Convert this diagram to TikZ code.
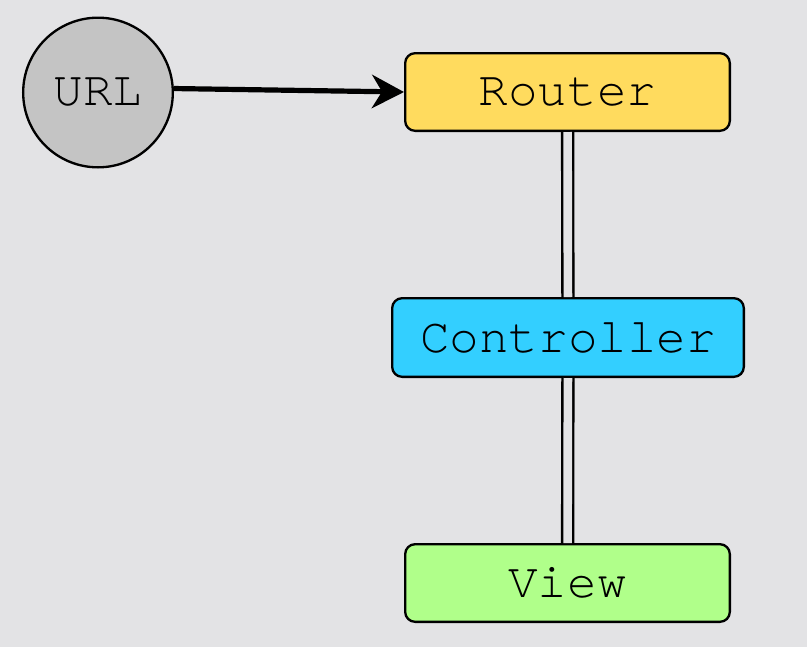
\documentclass[tikz,border=0pt]{standalone}
\usepackage{fontspec}
\setmonofont{TeX Gyre Cursor}
\usepackage{tikz}
\usetikzlibrary{arrows.meta}
\definecolor{bggray}{HTML}{E3E3E5}
\definecolor{urlgray}{HTML}{C4C4C4}
\definecolor{routeryellow}{HTML}{FFDB5E}
\definecolor{ctrlblue}{HTML}{33CFFF}
\definecolor{viewgreen}{HTML}{B0FF8A}
\tikzset{
    mvcbox/.style={draw, rounded corners=7.5pt, line width=1.75pt,
        minimum width=243.5pt, minimum height=58.25pt, inner sep=0pt,
        font=\ttfamily\fontsize{37}{37}\selectfont},
    link/.style={double=bggray, double distance=6.5pt, line width=1.75pt}
}
\newcommand{\doublelink}[2]{
    \draw[link] (#1) -- (#2);
}

\begin{document}
\begin{tikzpicture}[x=0.75pt,y=-0.75pt]
        \useasboundingbox (0,0) rectangle (807,647);
        \fill[bggray] (0,0) rectangle (807,647);
        \node[circle,draw,fill=urlgray,line width=1.75pt,minimum size=112.25pt,inner sep=0pt,
            font=\ttfamily\fontsize{37}{37}\selectfont] (url) at (98,92.5) {URL};
        \node[mvcbox,fill=routeryellow] (router) at (567.5,92) {Router};
        \node[mvcbox,fill=ctrlblue,minimum width=263.75pt,minimum height=59pt] (controller) at (568,337.5) {Controller};
        \node[mvcbox,fill=viewgreen] (view) at (567.5,583) {View};
        \doublelink{router}{controller}
        \doublelink{controller}{view}
        \draw[line width=3.9pt,-{Stealth[length=24pt,width=25pt,inset=7.5pt]}] (url.3) -- (router.west);
    \end{tikzpicture}
\end{document}
